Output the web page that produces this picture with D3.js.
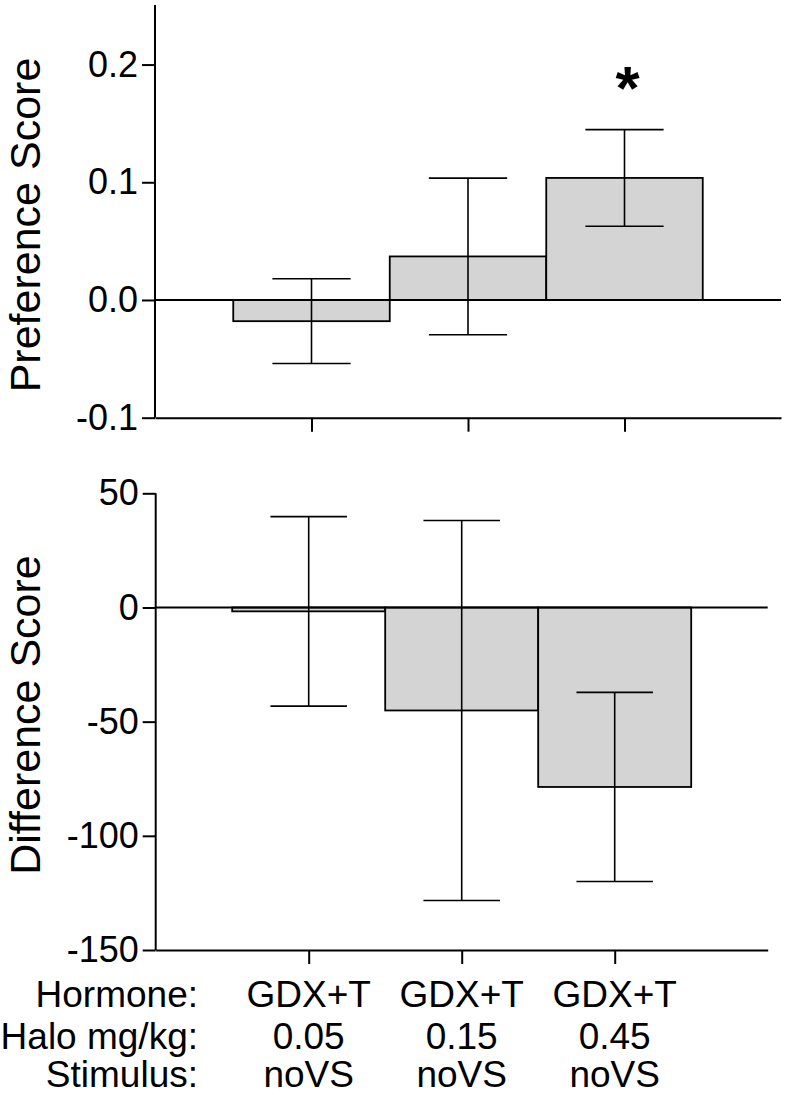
<!DOCTYPE html>
<html>
<head>
<meta charset="utf-8">
<script src="https://cdn.jsdelivr.net/npm/d3@7"></script>
<style>
  html, body { margin: 0; padding: 0; background: #fff; }
  svg { display: block; }
  text { font-family: "Liberation Sans", Arial, Helvetica, sans-serif; fill: #000; }
</style>
</head>
<body>
<svg id="chart" width="785" height="1095"></svg>
<script>
// ---- data ----
const groups = [1, 2, 3];
const hormone = ["GDX+T", "GDX+T", "GDX+T"];
const halo = ["0.05", "0.15", "0.45"];
const stimulus = ["noVS", "noVS", "noVS"];
const rowLabels = ["Hormone:", "Halo mg/kg:", "Stimulus:"];

const prefMean = [-0.018, 0.037, 0.1037];
const prefSem = [0.036, 0.0665, 0.041];
const prefTicks = [-0.1, 0.0, 0.1, 0.2];
const prefTickLabels = ["-0.1", "0.0", "0.1", "0.2"];
const prefSignif = ["", "", "*"];

const diffMean = [-1.7, -45.1, -78.6];
const diffSem = [41.5, 83.2, 41.4];
const diffTicks = [-150, -100, -50, 0, 50];
const diffTickLabels = ["-150", "-100", "-50", "0", "50"];

// ---- drawing ----
const svg = d3.select("#chart");
const FILL = "#d4d4d4";

function panel(opts) {
  const g = svg.append("g");
  const x = d3.scaleLinear().domain([0, 4]).range(opts.xRange);
  const y = d3.scaleLinear().domain(opts.yDomain).range(opts.yRange);
  const unit = x(1) - x(0);

  // bars
  g.selectAll("rect.bar").data(opts.mean).join("rect")
    .attr("class", "bar")
    .attr("x", (d, i) => x(groups[i] - 0.5))
    .attr("width", unit)
    .attr("y", d => Math.min(y(d), y(0)))
    .attr("height", d => Math.abs(y(d) - y(0)))
    .attr("fill", FILL)
    .attr("stroke", "#000")
    .attr("stroke-width", 1.8);

  // zero line
  g.append("line")
    .attr("x1", x(0)).attr("x2", x(4))
    .attr("y1", y(0)).attr("y2", y(0))
    .attr("stroke", "#000").attr("stroke-width", 1.8);

  // error bars
  const eb = g.selectAll("g.err").data(opts.mean).join("g").attr("class", "err")
    .attr("stroke", "#000").attr("stroke-width", 1.6);
  eb.append("line")
    .attr("x1", (d, i) => x(groups[i])).attr("x2", (d, i) => x(groups[i]))
    .attr("y1", (d, i) => y(d + opts.sem[i])).attr("y2", (d, i) => y(d - opts.sem[i]));
  eb.append("line")
    .attr("x1", (d, i) => x(groups[i] - 0.25)).attr("x2", (d, i) => x(groups[i] + 0.25))
    .attr("y1", (d, i) => y(d + opts.sem[i])).attr("y2", (d, i) => y(d + opts.sem[i]));
  eb.append("line")
    .attr("x1", (d, i) => x(groups[i] - 0.25)).attr("x2", (d, i) => x(groups[i] + 0.25))
    .attr("y1", (d, i) => y(d - opts.sem[i])).attr("y2", (d, i) => y(d - opts.sem[i]));

  // y axis
  const yAxis = d3.axisLeft(y).tickValues(opts.ticks)
    .tickFormat((d, i) => opts.tickLabels[i]).tickSize(13).tickPadding(4).tickSizeOuter(0);
  const ya = g.append("g").attr("transform", `translate(${x(0)},0)`).call(yAxis);
  ya.select(".domain").attr("stroke-width", 2).attr("d", `M0,${opts.yRange[0]}V${opts.axisTop}`);
  ya.selectAll(".tick line").attr("stroke-width", 2);
  ya.selectAll(".tick text").style("font-size", "36px")
    .style("font-family", '"Liberation Sans", Arial, sans-serif').attr("fill", "#000");

  // x axis (ticks only)
  const xAxis = d3.axisBottom(x).tickValues(groups).tickFormat("").tickSize(14).tickSizeOuter(0);
  const xa = g.append("g").attr("transform", `translate(0,${opts.yRange[0]})`).call(xAxis);
  xa.select(".domain").attr("stroke-width", 2);
  xa.selectAll(".tick line").attr("stroke-width", 2);

  // axis title
  g.append("text")
    .attr("transform", `translate(${opts.titleX},${opts.titleY}) rotate(-90)`)
    .attr("text-anchor", "middle")
    .style("font-size", "43px")
    .text(opts.title);

  return { x, y, g };
}

const topPanel = panel({
  xRange: [155, 781],
  yDomain: [-0.1, 0.25],
  yRange: [417.7, 5.7],
  axisTop: 5,
  mean: prefMean, sem: prefSem,
  ticks: prefTicks, tickLabels: prefTickLabels,
  title: "Preference Score", titleX: 40, titleY: 225
});

// significance marker
topPanel.g.selectAll("text.sig").data(prefSignif).join("text")
  .attr("class", "sig")
  .attr("x", (d, i) => topPanel.x(groups[i]) + 3)
  .attr("y", (d, i) => topPanel.y(prefMean[i] + prefSem[i]) - 21)
  .attr("text-anchor", "middle")
  .style("font-size", "62px")
  .style("font-weight", "bold")
  .text(d => d);

const bottomPanel = panel({
  xRange: [155.7, 767.7],
  yDomain: [-150, 50],
  yRange: [950, 493.3],
  axisTop: 493.3,
  mean: diffMean, sem: diffSem,
  ticks: diffTicks, tickLabels: diffTickLabels,
  title: "Difference Score", titleX: 40, titleY: 715
});

// category label table
const rows = [hormone, halo, stimulus];
const rowBaselines = [1007, 1049, 1087];
const lab = svg.append("g").style("font-size", "37px");
lab.selectAll("text.row").data(rowLabels).join("text")
  .attr("class", "row")
  .attr("x", 198)
  .attr("y", (d, i) => rowBaselines[i])
  .attr("text-anchor", "end")
  .text(d => d);
rows.forEach((vals, r) => {
  lab.selectAll(`text.c${r}`).data(vals).join("text")
    .attr("class", `c${r}`)
    .attr("x", (d, i) => bottomPanel.x(groups[i]))
    .attr("y", rowBaselines[r])
    .attr("text-anchor", "middle")
    .text(d => d);
});
</script>
</body>
</html>
